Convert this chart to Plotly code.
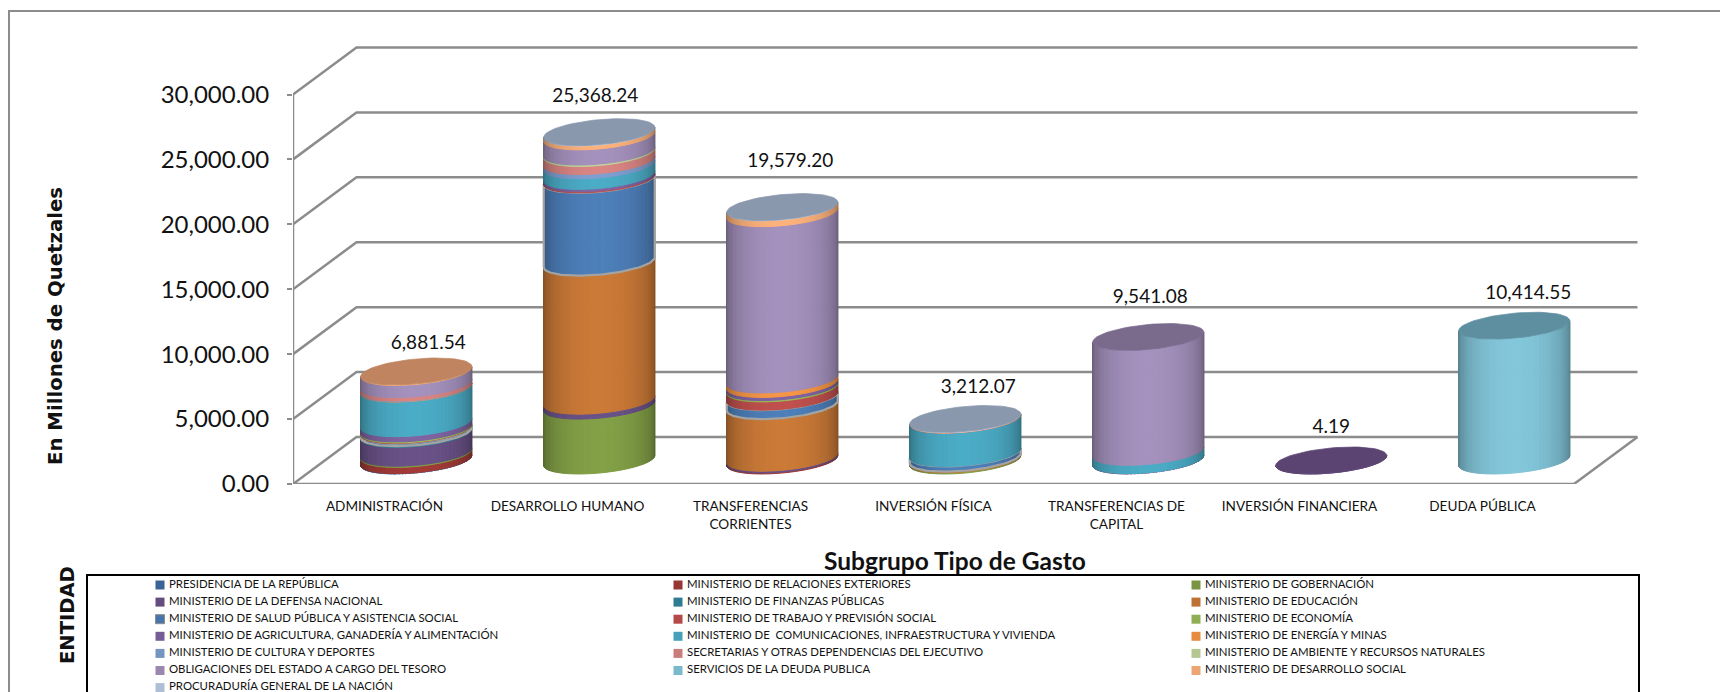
import math
import plotly.graph_objects as go

# ---------- data ----------
CATEGORIES = ["ADMINISTRACIÓN", "DESARROLLO HUMANO", "TRANSFERENCIAS<br>CORRIENTES", "INVERSIÓN FÍSICA",
              "TRANSFERENCIAS DE<br>CAPITAL", "INVERSIÓN FINANCIERA", "DEUDA PÚBLICA"]
TOTALS = [6881.54, 25368.24, 19579.20, 3212.07, 9541.08, 4.19, 10414.55]
Y_TICKS = [0, 5000, 10000, 15000, 20000, 25000, 30000]

presidencia = [30, 0, 0, 0, 0, 0, 0]
relaciones = [480, 0, 80, 0, 0, 0, 0]
gobernacion = [90, 4240, 0, 90, 0, 0, 0]
defensa = [1450.54, 380, 132, 0, 0, 4.19, 0]
finanzas = [100, 0, 0, 0, 0, 0, 0]
educacion = [0, 10700, 4030, 90, 0, 0, 0]
salud = [200, 6400, 690, 400, 0, 0, 0]
trabajo = [40, 78, 636, 0, 0, 0, 0]
economia = [90, 0, 106, 0, 0, 0, 0]
agricultura = [400, 190, 240, 0, 30, 0, 0]
comunicaciones = [2680, 815, 0, 2570, 640, 0, 0]
energia = [30, 0, 345, 0, 0, 0, 0]
cultura = [40, 330, 0, 0, 0, 0, 0]
secretarias = [270, 625, 0, 20, 0, 0, 0]
ambiente = [0, 110, 0, 0, 0, 0, 0]
obligaciones = [940, 1170, 12850.20, 0, 8871.08, 0, 0]
servicios = [0, 0, 0, 0, 0, 0, 10414.55]
desarrollo = [41, 310.24, 450, 20, 0, 0, 0]
procuraduria = [0, 20, 20, 22.07, 0, 0, 0]

SERIES = [
    ("PRESIDENCIA DE LA REPÚBLICA", presidencia, "#3f6aa0"),
    ("MINISTERIO DE RELACIONES EXTERIORES", relaciones, "#a23b38"),
    ("MINISTERIO DE GOBERNACIÓN", gobernacion, "#83a046"),
    ("MINISTERIO DE LA DEFENSA NACIONAL", defensa, "#6a5288"),
    ("MINISTERIO DE FINANZAS PÚBLICAS", finanzas, "#31859c"),
    ("MINISTERIO DE EDUCACIÓN", educacion, "#cb7a37"),
    ("MINISTERIO DE SALUD PÚBLICA Y ASISTENCIA SOCIAL", salud, "#4d7fb9"),
    ("MINISTERIO DE TRABAJO Y PREVISIÓN SOCIAL", trabajo, "#c0504d"),
    ("MINISTERIO DE ECONOMÍA", economia, "#9bbb59"),
    ("MINISTERIO DE AGRICULTURA, GANADERÍA Y ALIMENTACIÓN", agricultura, "#8064a2"),
    ("MINISTERIO DE  COMUNICACIONES, INFRAESTRUCTURA Y VIVIENDA", comunicaciones, "#4bacc6"),
    ("MINISTERIO DE ENERGÍA Y MINAS", energia, "#f79646"),
    ("MINISTERIO DE CULTURA Y DEPORTES", cultura, "#7f9fd0"),
    ("SECRETARIAS Y OTRAS DEPENDENCIAS DEL EJECUTIVO", secretarias, "#d98583"),
    ("MINISTERIO DE AMBIENTE Y RECURSOS NATURALES", ambiente, "#c3d69b"),
    ("OBLIGACIONES DEL ESTADO A CARGO DEL TESORO", obligaciones, "#a491bd"),
    ("SERVICIOS DE LA DEUDA PUBLICA", servicios, "#83c6da"),
    ("MINISTERIO DE DESARROLLO SOCIAL", desarrollo, "#fdb27c"),
    ("PROCURADURÍA GENERAL DE LA NACIÓN", procuraduria, "#b9cde5"),
]
CAP_COLORS = ["#c08560", "#8a98ae", "#8a98ae", "#8a98ae", "#7a6a8c", "#5b4472", "#5e8fa1"]
OUTLINED = "MINISTERIO DE SALUD PÚBLICA Y ASISTENCIA SOCIAL"

# ---------- layout constants (pixels) ----------
W, H = 1720, 692
AX_L, AX_B = 293, 484
CAT_W = 183
PX_PER_UNIT = 389.5 / 30000
DEPTH_X, DEPTH_Y = 63.5, 47
RX, RB, RK = 55.5, 12.5, 5        # cylinder radius, ellipse minor height, tilt
CYL_SCALE = 0.997
N_STRIPS = 48
GRID = "#8c8c8c"
LABEL_OFFSETS = [(12, -27.5), (-4, -35), (8, -45), (13, -31), (2, -39), (0, -32.5), (14, -31)]


def ux(px):
    return px / CAT_W


def uy(px):
    return px / PX_PER_UNIT


def shade(hex_color, f):
    r, g, b = (int(hex_color[i:i + 2], 16) for i in (1, 3, 5))
    return "#%02x%02x%02x" % (round(r * f), round(g * f), round(b * f))


def cx_of(i):
    return i + 0.5 + ux(DEPTH_X / 2)


def level(v):
    return uy(DEPTH_Y / 2) + v * CYL_SCALE


def ring(i, v, t):
    return (cx_of(i) + ux(RX * math.cos(t)),
            level(v) + uy(RK * math.cos(t) - RB * math.sin(t)))


fig = go.Figure()


def line(xs, ys, width=2.5, color=GRID, xa="x", ya="y", name="grid"):
    fig.add_trace(go.Scatter(x=xs, y=ys, mode="lines", line=dict(color=color, width=width), xaxis=xa, yaxis=ya,
                             cliponaxis=False, showlegend=False, hoverinfo="skip", name=name))


# walls and floor, from the value axis ticks
dx, dy = ux(DEPTH_X), uy(DEPTH_Y)
right = ux(1574 - AX_L)
for t in Y_TICKS:
    line([0, dx, right + dx], [t, t + dy, t + dy])
line([0, right, right + dx], [0, 0, dy])
line([0, 0], [0, Y_TICKS[-1]])

# cylinder bands, grouped into one trace per series and shade
ts = [math.pi * (1 - k / N_STRIPS) for k in range(N_STRIPS + 1)]
for name, vals, col in SERIES:
    paths = {}
    outline_x, outline_y = [], []
    for i, v in enumerate(vals):
        if v <= 0:
            continue
        base = sum(s[1][i] for s in SERIES[:[q[0] for q in SERIES].index(name)])
        top = base + v
        for k in range(N_STRIPS):
            t0, t1 = ts[k], ts[k + 1]
            f = 0.6 + 0.4 * math.sin((t0 + t1) / 2) ** 0.9
            key = round(f, 3)
            pts = [ring(i, base, t0), ring(i, base, t1), ring(i, top, t1), ring(i, top, t0), ring(i, base, t0)]
            xs, ys = paths.setdefault(key, ([], []))
            xs += [p[0] for p in pts] + [None]
            ys += [p[1] for p in pts] + [None]
        if name == OUTLINED:
            low = [ring(i, base, t) for t in ts]
            high = [ring(i, top, t) for t in ts]
            seq = low + high[::-1] + low[:1]
            outline_x += [p[0] for p in seq] + [None]
            outline_y += [p[1] for p in seq] + [None]
    for f, (xs, ys) in paths.items():
        c = shade(col, f)
        fig.add_trace(go.Scatter(x=xs, y=ys, mode="lines", fill="toself", fillcolor=c,
                                 line=dict(color=c, width=1), showlegend=False, hoverinfo="skip", name=name))
    if outline_x:
        line(outline_x, outline_y, width=2.2, color="#a3a3a3", name=name)

# top caps and totals
for i, total in enumerate(TOTALS):
    tt = [2 * math.pi * k / 72 for k in range(73)]
    pts = [ring(i, total, t) for t in tt]
    fig.add_trace(go.Scatter(x=[p[0] for p in pts], y=[p[1] for p in pts], mode="lines", fill="toself",
                             fillcolor=CAP_COLORS[i], line=dict(color=CAP_COLORS[i], width=0.7),
                             showlegend=False, hoverinfo="skip", name="cap"))
ox = [cx_of(i) + ux(LABEL_OFFSETS[i][0]) for i in range(len(TOTALS))]
oy = [level(v) - uy(LABEL_OFFSETS[i][1]) for i, v in enumerate(TOTALS)]
fig.add_trace(go.Scatter(x=ox, y=oy, mode="text", text=[f"{v:,.2f}" for v in TOTALS], cliponaxis=False,
                         textfont=dict(family="Lato", size=19, color="#111111"), textposition="middle center",
                         showlegend=False, hoverinfo="skip", name="Total"))

# frame and legend box on a page-sized overlay
line([9, 9, W], [H, 11, 11], width=2, color="#8c8c8c", xa="x2", ya="y2", name="frame")
line([87, 87, 1639, 1639], [H, 575, 575, H], width=2, color="#000000", xa="x2", ya="y2", name="legend box")

LEG_X = [160, 678, 1196]
LEG_Y0, LEG_DY = 585, 17.1
for n, (name, vals, col) in enumerate(SERIES):
    x = LEG_X[n % 3]
    y = LEG_Y0 + LEG_DY * (n // 3)
    mk = dict(symbol="square", size=9, color=shade(col, 0.93))
    if name == OUTLINED:
        mk["line"] = dict(color="#8c8c8c", width=1)
    fig.add_trace(go.Scatter(x=[x], y=[y], xaxis="x2", yaxis="y2", mode="markers", marker=mk, cliponaxis=False,
                             showlegend=False, hoverinfo="skip", name=name))
    fig.add_trace(go.Scatter(x=[x + 9], y=[y], xaxis="x2", yaxis="y2", mode="text", text=[name],
                             textposition="middle right", cliponaxis=False,
                             textfont=dict(family="Lato", size=11.4, color="#111111"),
                             showlegend=False, hoverinfo="skip", name=name))

fig.update_layout(
    width=W, height=H, autosize=False, margin=dict(l=0, r=0, t=0, b=0),
    paper_bgcolor="white", plot_bgcolor="rgba(0,0,0,0)", showlegend=False,
    xaxis=dict(domain=[AX_L / W, 1], range=[0, ux(W - AX_L)], tickmode="array", automargin=False,
               tickvals=[i + 0.5 for i in range(len(CATEGORIES))], ticktext=CATEGORIES,
               ticks="outside", ticklen=10, tickcolor="rgba(0,0,0,0)", showgrid=False, zeroline=False, showline=False,
               tickfont=dict(family="Lato", size=13.6, color="#111111")),
    yaxis=dict(domain=[(H - AX_B) / H, 1], range=[0, uy(AX_B)], tickmode="array", tickvals=Y_TICKS, automargin=False,
               ticktext=[f"{t:,.2f}" for t in Y_TICKS], ticks="outside", ticklen=5, tickcolor=GRID, tickwidth=2,
               ticklabelstandoff=13, showgrid=False, zeroline=False, showline=False,
               tickfont=dict(family="Lato", size=24, color="#111111")),
    xaxis2=dict(domain=[0, 1], range=[0, W], visible=False, anchor="y2", automargin=False),
    yaxis2=dict(domain=[0, 1], range=[H, 0], visible=False, anchor="x2", automargin=False),
    annotations=[
        dict(text="<b>En Millones de Quetzales</b>", xref="x2", yref="y2", x=55, y=326, textangle=-90, showarrow=False,
             font=dict(family="DejaVu Sans", size=19.7, color="#111111")),
        dict(text="<b>ENTIDAD</b>", xref="x2", yref="y2", x=67, y=615, textangle=-90, showarrow=False,
             font=dict(family="DejaVu Sans", size=19.5, color="#111111")),
        dict(text="<b>Subgrupo Tipo de Gasto</b>", xref="x2", yref="y2", x=955, y=560, showarrow=False,
             font=dict(family="Lato", size=24.5, color="#111111")),
    ],
)

fig.write_html("out.html", config={"displayModeBar": False},
               post_script="document.documentElement.style.margin='0';document.body.style.margin='0';")
